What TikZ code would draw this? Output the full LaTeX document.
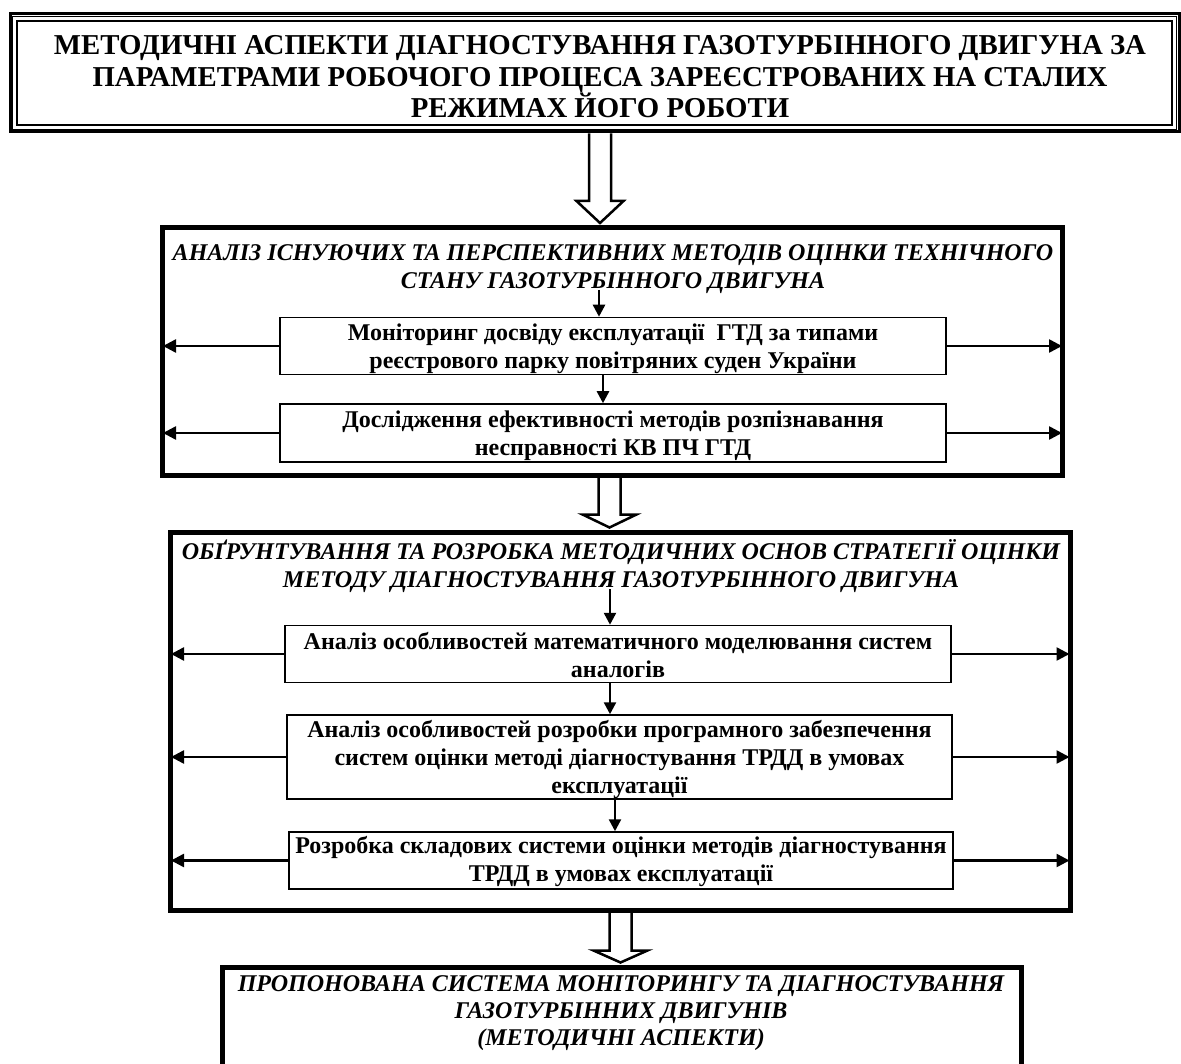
\documentclass[tikz,border=0pt]{standalone}
\usepackage{fontspec}
\setmainfont{Liberation Serif}
\usetikzlibrary{calc,arrows.meta}

% hollow block arrow: #1 start (shaft centre), #2 tip, #3 shaft half width,
% #4 head half width, #5 head length
\newcommand{\hollowarrow}[5]{%
  \draw[hollow] ($(#1)+(-#3pt,0pt)$) -- ($(#2)+(-#3pt,#5pt)$) -- ($(#2)+(-#4pt,#5pt)$)
    -- (#2) -- ($(#2)+(#4pt,#5pt)$) -- ($(#2)+(#3pt,#5pt)$) -- ($(#1)+(#3pt,0pt)$);}

\begin{document}
\begin{tikzpicture}[x=1pt,y=-1pt,
  bigbox/.style={draw, line width=5pt, inner sep=0pt},
  stepbox/.style={draw, line width=1.5pt, inner sep=0pt, fill=white},
  headtext/.style={align=center, font=\fontsize{28.8}{31.5}\selectfont\bfseries},
  boxtitle/.style={align=center, font=\fontsize{24}{28.5}\selectfont\bfseries\itshape},
  resulttitle/.style={align=center, font=\fontsize{24}{27}\selectfont\bfseries\itshape},
  steptext/.style={align=center, font=\fontsize{24}{28}\selectfont\bfseries},
  sidearrow/.style={line width=2.5pt, -{Triangle[length=13pt,width=13pt]}},
  downarrow/.style={line width=2.5pt, -{Triangle[length=12pt,width=12pt]}},
  hollow/.style={draw, line width=2.5pt, fill=white, line join=miter}]
\useasboundingbox (0,0) rectangle (1181,1064);
\clip (0,0) rectangle (1181,1064);

% ---------- heading with triple frame ----------
\node[draw, line width=3pt, inner sep=0pt, minimum width=1169pt, minimum height=118pt]
  (top) at (594.5,73) {};
\draw[line width=1.5pt] ([shift={(4pt,-4pt)}]top.north west) rectangle ([shift={(-4pt,4pt)}]top.south east);
\draw[line width=1.5pt] ([shift={(8.5pt,-8.5pt)}]top.north west) rectangle ([shift={(-8.5pt,8.5pt)}]top.south east);
\node[headtext] (toptext) at (600,77)
  {МЕТОДИЧНІ АСПЕКТИ ДІАГНОСТУВАННЯ ГАЗОТУРБІННОГО ДВИГУНА ЗА\\
   ПАРАМЕТРАМИ РОБОЧОГО ПРОЦЕСА ЗАРЕЄСТРОВАНИХ НА СТАЛИХ\\
   РЕЖИМАХ ЙОГО РОБОТИ};

% ---------- block 1 ----------
\node[bigbox, minimum width=900pt, minimum height=248pt] (box2) at (612.5,351.5) {};
\node[boxtitle] (title2) at (613,269)
  {АНАЛІЗ ІСНУЮЧИХ ТА ПЕРСПЕКТИВНИХ МЕТОДІВ ОЦІНКИ ТЕХНІЧНОГО\\
   СТАНУ ГАЗОТУРБІННОГО ДВИГУНА};
\node[stepbox, minimum width=666pt, minimum height=57pt] (s1) at (613,346) {};
\node[steptext] at ([yshift=-3pt]s1) {Моніторинг досвіду експлуатації\ \ ГТД за типами\\
   реєстрового парку повітряних суден України};
\node[stepbox, minimum width=666pt, minimum height=58pt] (s2) at (613,433) {};
\node[steptext] at ([yshift=-3pt]s2) {Дослідження ефективності методів розпізнавання\\
   несправності КВ ПЧ ГТД};

\coordinate (t2b) at (599,290);
\draw[downarrow] (t2b) -- (t2b |- s1.north);
\draw[downarrow] ([xshift=-10pt]s1.south) -- ([xshift=-10pt]s2.north);
\draw[sidearrow] (s1.west) -- ([xshift=3pt]s1.west -| box2.west);
\draw[sidearrow] (s1.east) -- ([xshift=-3pt]s1.east -| box2.east);
\draw[sidearrow] (s2.west) -- ([xshift=3pt]s2.west -| box2.west);
\draw[sidearrow] (s2.east) -- ([xshift=-3pt]s2.east -| box2.east);

% ---------- block 2 ----------
\node[bigbox, minimum width=899.5pt, minimum height=378.5pt] (box3) at (620.25,721.25) {};
\node[boxtitle] (title3) at (621,566)
  {ОБҐРУНТУВАННЯ ТА РОЗРОБКА МЕТОДИЧНИХ ОСНОВ СТРАТЕГІЇ ОЦІНКИ\\
   МЕТОДУ ДІАГНОСТУВАННЯ ГАЗОТУРБІННОГО ДВИГУНА};
\node[stepbox, minimum width=666pt, minimum height=57pt] (s3) at (618,654) {};
\node[steptext] at ([yshift=-1pt]s3) {Аналіз особливостей математичного моделювання систем\\
   аналогів};
\node[stepbox, minimum width=665pt, minimum height=84pt] (s4) at (619.5,757) {};
\node[steptext] at ([yshift=-2.5pt]s4) {Аналіз особливостей розробки програмного забезпечення\\
   систем оцінки методі діагностування ТРДД в умовах\\ експлуатації};
\node[stepbox, minimum width=664pt, minimum height=57pt] (s5) at (621,860.5) {};
\node[steptext] at ([yshift=-1pt]s5) {Розробка складових системи оцінки методів діагностування\\
   ТРДД в умовах експлуатації};

\coordinate (t3b) at (610,589);
\draw[downarrow] (t3b) -- (t3b |- s3.north);
\draw[downarrow] ([xshift=-8pt]s3.south) -- ([xshift=-8pt]s3.south |- s4.north);
\draw[downarrow] ([xshift=-6pt]s4.south -| s5.south) -- ([xshift=-6pt]s5.north);
\foreach \s in {s3,s4,s5}{
  \draw[sidearrow] (\s.west) -- ([xshift=3pt]\s.west -| box3.west);
  \draw[sidearrow] (\s.east) -- ([xshift=-3pt]\s.east -| box3.east);
}

% ---------- result ----------
\node[bigbox, minimum width=799pt, minimum height=140pt] (box4) at (621.5,1037) {};
\node[resulttitle] (title4) at (621,1013)
  {ПРОПОНОВАНА СИСТЕМА МОНІТОРИНГУ ТА ДІАГНОСТУВАННЯ\\
   ГАЗОТУРБІННИХ ДВИГУНІВ\\ (МЕТОДИЧНІ АСПЕКТИ)};

% ---------- block arrows between stages ----------
\coordinate (a1) at (600,0);
\coordinate (a1s) at (a1 |- top.south);
\coordinate (a1t) at ([yshift=2pt]a1 |- box2.north);
\hollowarrow{a1s}{a1t}{11}{23.5}{22}
\coordinate (a2) at (609.5,0);
\coordinate (a2s) at (a2 |- box2.south);
\coordinate (a2t) at ([yshift=2pt]a2 |- box3.north);
\hollowarrow{a2s}{a2t}{11}{27}{13}
\coordinate (a3) at (620.5,0);
\coordinate (a3s) at (a3 |- box3.south);
\coordinate (a3t) at ([yshift=2pt]a3 |- box4.north);
\hollowarrow{a3s}{a3t}{11}{27}{12}
\end{tikzpicture}
\end{document}
